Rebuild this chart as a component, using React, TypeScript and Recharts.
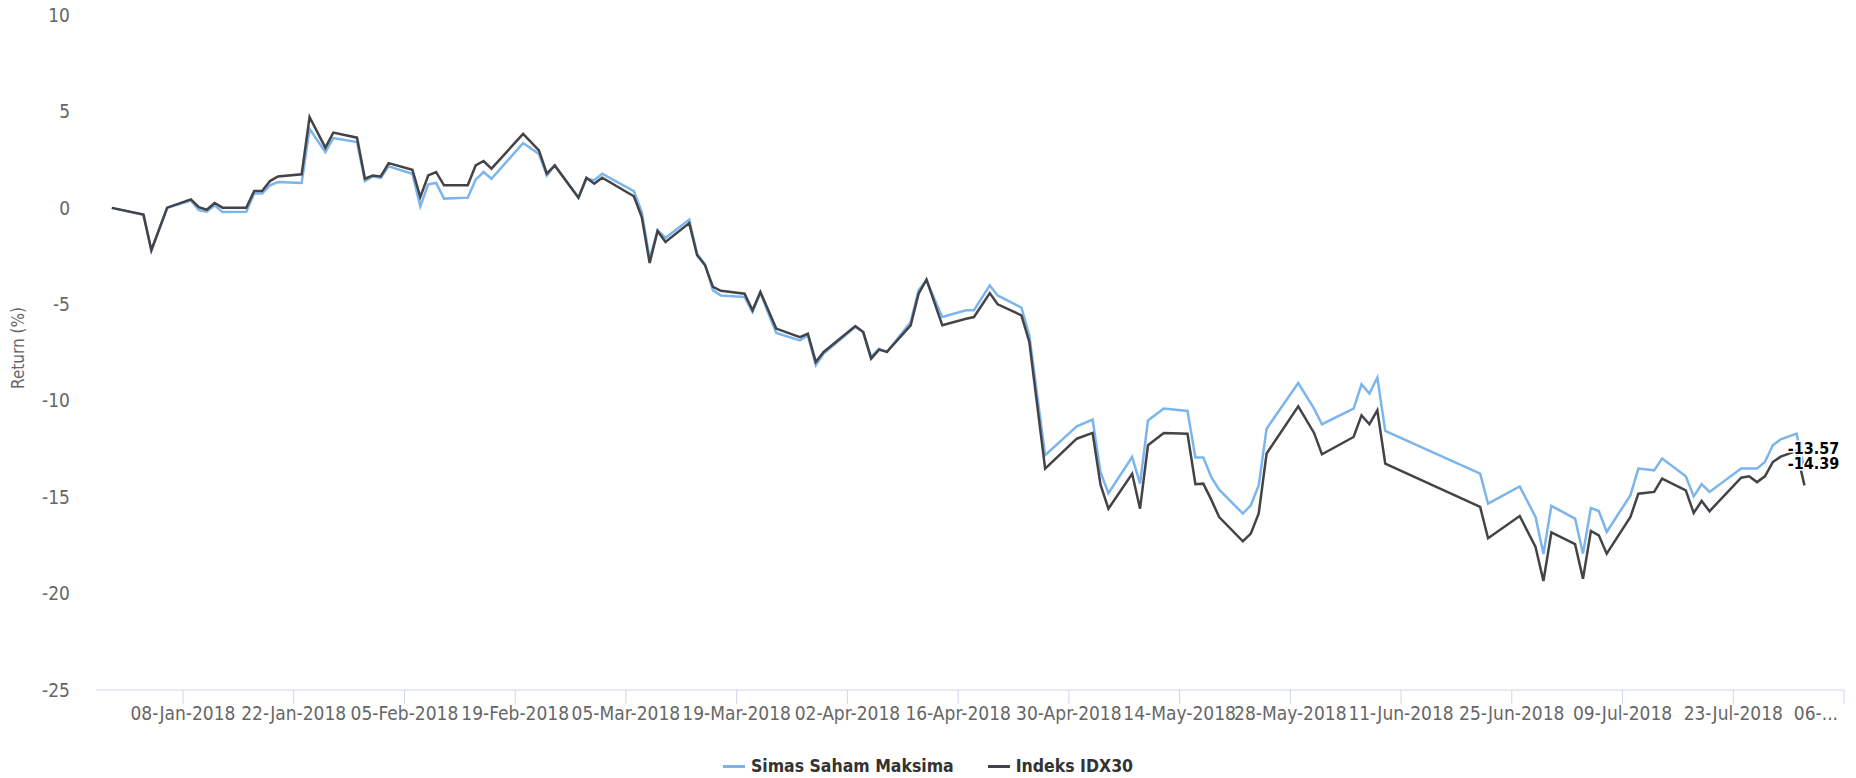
import React from 'react'
import { LineChart, Line, XAxis, YAxis, Legend, LabelList } from 'recharts'

// plotted dates as they sit on the time axis
const dates = [
    '2017-12-30', '2018-01-03', '2018-01-04', '2018-01-06', '2018-01-09', '2018-01-10', '2018-01-11', '2018-01-12',
    '2018-01-13', '2018-01-16', '2018-01-17', '2018-01-18', '2018-01-19', '2018-01-20', '2018-01-23', '2018-01-24',
    '2018-01-26', '2018-01-27', '2018-01-30', '2018-01-31', '2018-02-01', '2018-02-02', '2018-02-03', '2018-02-06',
    '2018-02-07', '2018-02-08', '2018-02-09', '2018-02-10', '2018-02-13', '2018-02-14', '2018-02-15', '2018-02-16',
    '2018-02-20', '2018-02-22', '2018-02-23', '2018-02-24', '2018-02-27', '2018-02-28', '2018-03-01', '2018-03-02',
    '2018-03-06', '2018-03-07', '2018-03-08', '2018-03-09', '2018-03-10', '2018-03-13', '2018-03-14', '2018-03-15',
    '2018-03-16', '2018-03-17', '2018-03-20', '2018-03-21', '2018-03-22', '2018-03-24', '2018-03-27', '2018-03-28',
    '2018-03-29', '2018-03-30', '2018-04-03', '2018-04-04', '2018-04-05', '2018-04-06', '2018-04-07', '2018-04-10',
    '2018-04-11', '2018-04-12', '2018-04-14', '2018-04-17', '2018-04-18', '2018-04-20', '2018-04-21', '2018-04-24',
    '2018-04-25', '2018-04-27', '2018-05-01', '2018-05-03', '2018-05-04', '2018-05-05', '2018-05-08', '2018-05-09',
    '2018-05-10', '2018-05-12', '2018-05-15', '2018-05-16', '2018-05-17', '2018-05-18', '2018-05-19', '2018-05-22',
    '2018-05-23', '2018-05-24', '2018-05-25', '2018-05-29', '2018-05-31', '2018-06-01', '2018-06-05', '2018-06-06',
    '2018-06-07', '2018-06-08', '2018-06-09', '2018-06-21', '2018-06-22', '2018-06-26', '2018-06-28', '2018-06-29',
    '2018-06-30', '2018-07-03', '2018-07-04', '2018-07-05', '2018-07-06', '2018-07-07', '2018-07-10', '2018-07-11',
    '2018-07-13', '2018-07-14', '2018-07-17', '2018-07-18', '2018-07-19', '2018-07-20', '2018-07-24', '2018-07-25',
    '2018-07-26', '2018-07-27', '2018-07-28', '2018-07-29', '2018-07-31', '2018-08-01',
]

const simasSahamMaksima = [
    0, -0.36, -2.2, 0.0, 0.38, -0.12, -0.2, 0.13,
    -0.22, -0.2, 0.74, 0.74, 1.17, 1.34, 1.29, 4.1,
    2.89, 3.62, 3.41, 1.39, 1.63, 1.56, 2.15, 1.77,
    0.08, 1.22, 1.29, 0.48, 0.53, 1.46, 1.86, 1.51,
    3.36, 2.8, 1.68, 2.2, 0.53, 1.51, 1.43, 1.77,
    0.87, -0.22, -2.64, -1.17, -1.55, -0.61, -2.38, -2.93,
    -4.28, -4.54, -4.62, -5.4, -4.41, -6.49, -6.87, -6.6,
    -8.16, -7.56, -6.18, -6.44, -7.73, -7.3, -7.47, -5.92,
    -4.28, -3.76, -5.66, -5.31, -5.31, -4.02, -4.54, -5.17,
    -6.61, -12.83, -11.33, -10.98, -13.7, -14.8, -12.92, -14.3,
    -11.02, -10.41, -10.53, -12.95, -12.95, -13.95, -14.61, -15.85,
    -15.42, -14.39, -11.45, -9.08, -10.41, -11.22, -10.41, -9.15,
    -9.63, -8.8, -11.57, -13.78, -15.34, -14.44, -16.03, -17.95,
    -15.45, -16.11, -17.93, -15.56, -15.72, -16.81, -14.9, -13.52,
    -13.61, -13.0, -13.92, -14.96, -14.33, -14.73, -13.52, -13.52,
    -13.52, -13.18, -12.31, -12.0, -11.71, -13.57,
]

const indeksIdx30 = [
    0, -0.35, -2.2, 0.01, 0.44, 0.04, -0.1, 0.25,
    0.01, 0.01, 0.87, 0.87, 1.39, 1.63, 1.74, 4.71,
    3.12, 3.9, 3.64, 1.51, 1.68, 1.63, 2.32, 1.98,
    0.56, 1.68, 1.86, 1.17, 1.17, 2.2, 2.43, 2.03,
    3.84, 2.98, 1.77, 2.2, 0.53, 1.56, 1.25, 1.56,
    0.6, -0.48, -2.86, -1.2, -1.77, -0.79, -2.46, -2.98,
    -4.1, -4.3, -4.45, -5.31, -4.36, -6.26, -6.7, -6.52,
    -7.99, -7.47, -6.13, -6.44, -7.82, -7.35, -7.47, -6.09,
    -4.45, -3.72, -6.09, -5.75, -5.66, -4.42, -5.0, -5.57,
    -6.95, -13.52, -11.97, -11.67, -14.35, -15.6, -13.79, -15.6,
    -12.31, -11.67, -11.71, -14.33, -14.3, -15.13, -16.03, -17.29,
    -16.89, -15.85, -12.74, -10.29, -11.67, -12.78, -11.88, -10.76,
    -11.22, -10.5, -13.26, -15.51, -17.13, -15.98, -17.58, -19.35,
    -16.83, -17.44, -19.23, -16.75, -16.98, -17.93, -16.03, -14.82,
    -14.73, -14.04, -14.65, -15.82, -15.2, -15.73, -13.99, -13.92,
    -14.22, -13.92, -13.18, -12.9, -12.6, -14.39,
]

const tickDates = [
    '2018-01-08', '2018-01-22', '2018-02-05', '2018-02-19', '2018-03-05', '2018-03-19', '2018-04-02', '2018-04-16',
    '2018-04-30', '2018-05-14', '2018-05-28', '2018-06-11', '2018-06-25', '2018-07-09', '2018-07-23', '2018-08-06',
]
const xDomain = ['2017-12-28', '2018-08-06']
const yTicks = [10, 5, 0, -5, -10, -15, -20, -25]

const MONTHS = ['Jan', 'Feb', 'Mar', 'Apr', 'May', 'Jun', 'Jul', 'Aug', 'Sep', 'Oct', 'Nov', 'Dec']
const toTime = (s: string) => {
    const [y, m, d] = s.split('-').map(Number)
    return Date.UTC(y, m - 1, d)
}
const fmtDate = (t: number) => {
    const d = new Date(t)
    return `${String(d.getUTCDate()).padStart(2, '0')}-${MONTHS[d.getUTCMonth()]}-${d.getUTCFullYear()}`
}

const FONT = "'DejaVu Sans Condensed', 'DejaVu Sans', sans-serif"
const BLUE = '#7cb5ec'
const DARK = '#434348'

const data = dates.map((d, i) => ({
    t: toTime(d),
    fund: simasSahamMaksima[i],
    idx: indeksIdx30[i],
}))
const ticks = tickDates.map(toTime)
const lastTick = ticks[ticks.length - 1]

function XTick(props: any) {
    const { x, y, payload } = props
    const isLast = payload.value === lastTick
    return (
        <text x={isLast ? x - 6 : x} y={y} dy={14} textAnchor={isLast ? 'end' : 'middle'}
            fill="#666" fontSize={19} fontFamily={FONT} style={{ fontStretch: 'condensed' }}>
            {isLast ? '06-...' : fmtDate(payload.value)}
        </text>
    )
}

function endLabel(props: any) {
    const { x, y, value, index } = props
    if (index !== data.length - 1) return null
    return (
        <text x={x + 9} y={y - 16} textAnchor="middle" fontSize={16} fontWeight="bold" fontFamily={FONT}
            fill="#000" stroke="#fff" strokeWidth={3} paintOrder="stroke" style={{ fontStretch: 'condensed' }}>
            {value.toFixed(2)}
        </text>
    )
}

function LegendBox() {
    const items = [
        { name: 'Simas Saham Maksima', color: BLUE },
        { name: 'Indeks IDX30', color: DARK },
    ]
    return (
        <div style={{ display: 'flex', justifyContent: 'center', gap: 34, fontFamily: FONT, fontStretch: 'condensed' }}>
            {items.map(it => (
                <div key={it.name} style={{ display: 'flex', alignItems: 'center', gap: 6 }}>
                    <span style={{ display: 'inline-block', width: 22, height: 3, background: it.color }} />
                    <span style={{ fontSize: 17.5, fontWeight: 'bold', color: '#333' }}>{it.name}</span>
                </div>
            ))}
        </div>
    )
}

export default function App() {
    return (
        <div style={{ position: 'fixed', left: 0, top: 0, width: 1856, height: 778, background: '#fff' }}>
            <LineChart width={1856} height={778} data={data} margin={{ top: 15, right: 12, bottom: 58, left: 0 }}>
                <XAxis
                    dataKey="t"
                    type="number"
                    scale="time"
                    height={30}
                    domain={xDomain.map(toTime)}
                    ticks={ticks}
                    interval={0}
                    tick={<XTick />}
                    tickSize={14}
                    tickMargin={2}
                    stroke="#ccd6eb"
                    tickLine={{ stroke: '#ccd6eb' }}
                    axisLine={{ stroke: '#ccd6eb' }}
                    allowDataOverflow
                />
                <YAxis
                    width={96}
                    domain={[-25, 10]}
                    ticks={yTicks}
                    interval={0}
                    axisLine={false}
                    tickLine={false}
                    tickSize={0}
                    tickMargin={26}
                    tick={{ fill: '#666', fontSize: 19, fontFamily: FONT }}
                    label={(p: any) => (
                        <text x={24} y={348} transform="rotate(-90 24 348)" textAnchor="middle" fill="#666"
                            fontSize={17} fontFamily={FONT}>Return (%)</text>
                    )}
                />
                <Legend verticalAlign="middle" align="center" layout="horizontal" content={<LegendBox />}
                    wrapperStyle={{ top: 756, left: 0, width: 1856 }} />
                <Line type="linear" dataKey="fund" name="Simas Saham Maksima" stroke={BLUE} strokeWidth={2.5}
                    dot={false} activeDot={false} isAnimationActive={false}>
                    <LabelList dataKey="fund" content={endLabel} />
                </Line>
                <Line type="linear" dataKey="idx" name="Indeks IDX30" stroke={DARK} strokeWidth={2.5}
                    dot={false} activeDot={false} isAnimationActive={false}>
                    <LabelList dataKey="idx" content={endLabel} />
                </Line>
            </LineChart>
        </div>
    )
}
